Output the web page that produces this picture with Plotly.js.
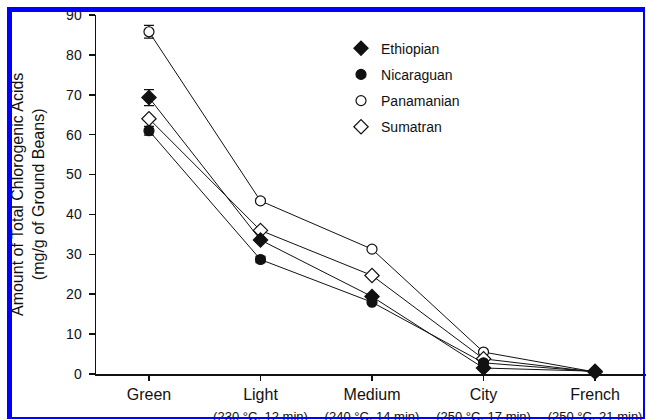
<!DOCTYPE html>
<html>
<head>
<meta charset="utf-8">
<script src="https://cdn.plot.ly/plotly-3.0.1.min.js"></script>
<style>
  html, body { margin: 0; padding: 0; background: #fff; overflow: hidden; }
  #wrap { position: relative; width: 646px; height: 420px; overflow: hidden; }
  #chart { position: absolute; left: 0; top: 0; width: 646px; height: 420px; }
  #frame { position: absolute; left: 7px; top: 7px; width: 638px; height: 412px; box-sizing: border-box;
           border-left: 5px solid #0000ff; border-top: 5px solid #0000ff;
           border-right: 2px solid #0000ff; border-bottom: 2px solid #0000ff; pointer-events: none; }
</style>
</head>
<body>
<div id="wrap"><div id="chart"></div><div id="frame"></div></div>
<script>
// Roast levels (categories)
const categories = [0, 1, 2, 3, 4];
const categoryNames = ["Green", "Light", "Medium", "City", "French"];
const roastConditions = ["", "(230 °C, 12 min)", "(240 °C, 14 min)", "(250 °C, 17 min)", "(250 °C, 21 min)"];

// Total chlorogenic acids (mg/g of ground beans)
const ethiopian   = [69.3, 33.6, 19.4, 1.5, 0.7];
const nicaraguan  = [61.0, 28.7, 18.0, 2.8, 0.6];
const panamanian  = [85.8, 43.4, 31.3, 5.5, 0.5];
const sumatran    = [64.0, 36.0, 24.7, 3.8, 0.5];

// Error (± mg/g)
const ethiopianErr  = [2.0, 0.6, 0.6, 0.3, 0.2];
const nicaraguanErr = [1.1, 0.8, 0.5, 0.3, 0.2];
const panamanianErr = [1.6, 0.5, 0.5, 0.3, 0.2];
const sumatranErr   = [0.5, 0.5, 0.5, 0.3, 0.2];

const yTicks = [0, 10, 20, 30, 40, 50, 60, 70, 80, 90];

const categoryLabels = categoryNames.map((n, i) =>
  roastConditions[i] ? n + '<br><span style="font-size:13px">' + roastConditions[i] + '</span>' : n);

function series(name, y, err, symbol, filled, size) {
  return {
    type: 'scatter', mode: 'lines+markers', name: name, x: categories, y: y,
    showlegend: false, cliponaxis: false,
    line: { color: '#111', width: 1 },
    marker: { symbol: symbol, size: size, color: filled ? '#111' : '#fff', line: { color: '#111', width: 1.2 } },
    error_y: { type: 'data', array: err, visible: true, color: '#111', thickness: 1.2, width: 5 }
  };
}
function legendItem(name, symbol, filled, size, rank) {
  return {
    type: 'scatter', mode: 'markers', name: name, x: [null], y: [null],
    legendrank: rank, legendgroup: name,
    marker: { symbol: symbol, size: size, color: filled ? '#111' : '#fff', line: { color: '#111', width: 1.2 } }
  };
}

const data = [
  series('Panamanian', panamanian, panamanianErr, 'circle', false, 10),
  series('Sumatran', sumatran, sumatranErr, 'diamond', false, 11),
  series('Nicaraguan', nicaraguan, nicaraguanErr, 'circle', true, 10),
  series('Ethiopian', ethiopian, ethiopianErr, 'diamond', true, 11),
  legendItem('Ethiopian', 'diamond', true, 11, 1),
  legendItem('Nicaraguan', 'circle', true, 10, 2),
  legendItem('Panamanian', 'circle', false, 10, 3),
  legendItem('Sumatran', 'diamond', false, 11, 4)
];

const layout = {
  width: 646, height: 420,
  margin: { l: 96, r: 0, t: 15, b: 46 },
  paper_bgcolor: '#fff', plot_bgcolor: '#fff',
  font: { family: 'Liberation Sans, Arial, sans-serif', color: '#111' },
  showlegend: true,
  legend: {
    x: 0.4455, y: 0.951, xanchor: 'left', yanchor: 'top',
    bgcolor: 'rgba(0,0,0,0)', font: { size: 14, color: '#111' },
    tracegroupgap: 5, itemwidth: 30
  },
  xaxis: {
    range: [-0.475, 4.457], showgrid: false, zeroline: false,
    showline: true, linecolor: '#111', linewidth: 2,
    ticks: 'outside', ticklen: 5, tickwidth: 1.5, tickcolor: '#111',
    tickmode: 'array', tickvals: categories, ticktext: categoryLabels,
    tickangle: 0, automargin: false, ticklabeloverflow: 'allow',
    tickfont: { size: 16, color: '#111' }
  },
  yaxis: {
    range: [0, 90], showgrid: false, zeroline: false,
    showline: true, linecolor: '#111', linewidth: 1.5,
    ticks: 'outside', ticklen: 6, tickwidth: 1.5, tickcolor: '#111',
    ticklabelstandoff: 4, automargin: false,
    tickmode: 'array', tickvals: yTicks, ticktext: yTicks.map(String),
    tickfont: { size: 14, color: '#111' }
  },
  annotations: [{
    xref: 'paper', yref: 'paper', x: -0.1245, y: 0.5, xanchor: 'center', yanchor: 'middle',
    text: 'Amount of Total Chlorogenic Acids<br>(mg/g of Ground Beans)',
    textangle: -90, showarrow: false, font: { size: 16, color: '#111' }
  }]
};

Plotly.newPlot('chart', data, layout, { displayModeBar: false, staticPlot: true });
</script>
</body>
</html>
